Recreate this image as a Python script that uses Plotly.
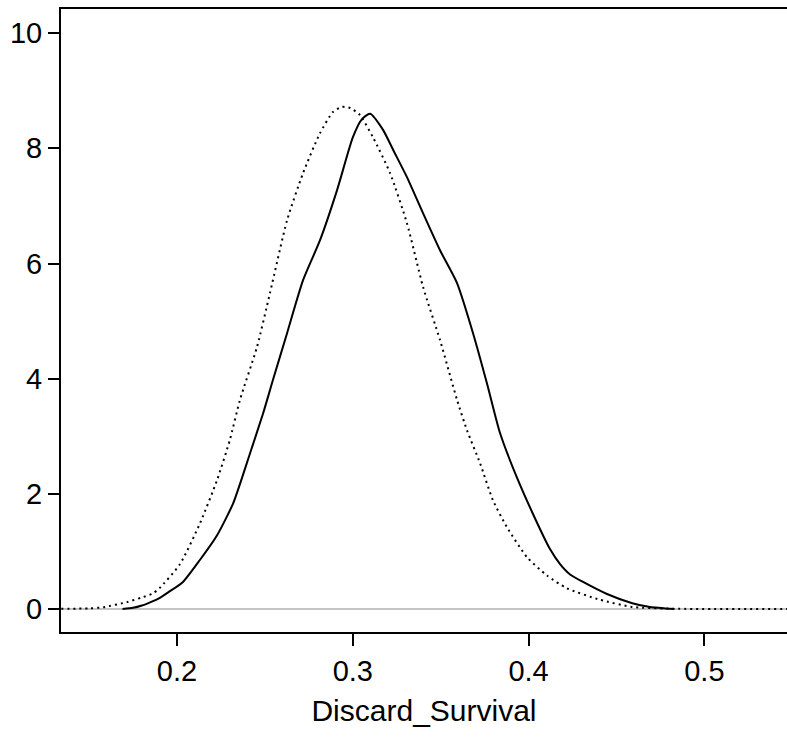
import plotly.graph_objects as go

# Solid curve (posterior density)
solid_x = [0.169, 0.175, 0.180, 0.185, 0.190, 0.1955, 0.2034, 0.213, 0.2228, 0.232,
           0.2415, 0.249, 0.2546, 0.2626, 0.2717, 0.2813, 0.291, 0.300, 0.305, 0.3098,
           0.3172, 0.323, 0.3308, 0.340, 0.3496, 0.3593, 0.3684, 0.3763, 0.3837, 0.3934,
           0.4025, 0.412, 0.4179, 0.4236, 0.431, 0.4446, 0.459, 0.469, 0.483]
solid_y = [0.0, 0.02, 0.06, 0.12, 0.19, 0.30, 0.47, 0.85, 1.28, 1.84,
           2.70, 3.40, 3.98, 4.79, 5.71, 6.40, 7.27, 8.19, 8.50, 8.60,
           8.32, 7.97, 7.50, 6.87, 6.23, 5.66, 4.79, 3.92, 3.06, 2.28,
           1.65, 1.05, 0.78, 0.60, 0.47, 0.26, 0.10, 0.035, 0.0]

# Dotted curve (prior density)
dot_x = [0.10, 0.150, 0.158, 0.1716, 0.180, 0.1863, 0.190, 0.2017, 0.2131, 0.2228,
         0.230, 0.2358, 0.2455, 0.2529, 0.2626, 0.2717, 0.2813, 0.2887, 0.2939, 0.2985,
         0.3040, 0.3115, 0.3212, 0.3308, 0.340, 0.3496, 0.3593, 0.365, 0.3724, 0.3797,
         0.3877, 0.3991, 0.4105, 0.4218, 0.4406, 0.459, 0.48, 0.60]
dot_y = [0.0, 0.01, 0.03, 0.12, 0.20, 0.27, 0.36, 0.78, 1.49, 2.24,
         2.93, 3.63, 4.55, 5.49, 6.75, 7.57, 8.26, 8.63, 8.72, 8.70,
         8.58, 8.19, 7.57, 6.70, 5.59, 4.67, 3.63, 3.10, 2.53, 1.89,
         1.42, 0.90, 0.58, 0.36, 0.16, 0.035, 0.005, 0.0]

x_ticks = [0.2, 0.3, 0.4, 0.5]
x_tick_labels = ["0.2", "0.3", "0.4", "0.5"]
y_ticks = [0, 2, 4, 6, 8, 10]
y_tick_labels = ["0", "2", "4", "6", "8", "10"]

FONT = "Arial, Liberation Sans, sans-serif"

fig = go.Figure()
fig.add_trace(go.Scatter(x=dot_x, y=dot_y, mode="lines", line=dict(color="black", width=2, dash="2px,4px", shape="spline", smoothing=0.6),
                         showlegend=False, hoverinfo="skip"))
fig.add_trace(go.Scatter(x=solid_x, y=solid_y, mode="lines", line=dict(color="black", width=2, shape="spline", smoothing=0.6),
                         showlegend=False, hoverinfo="skip"))

fig.update_layout(
    width=787, height=749,
    margin=dict(l=61, r=0, t=9, b=117),
    paper_bgcolor="white", plot_bgcolor="white",
    font=dict(family=FONT, size=30, color="black"),
    xaxis=dict(range=[0.134, 0.547], tickvals=x_ticks, ticktext=x_tick_labels,
               ticks="outside", ticklen=12, tickwidth=2, tickcolor="black",
               showline=True, linecolor="black", linewidth=2, mirror=True,
               showgrid=False, zeroline=False,
               title=dict(text="Discard_Survival", font=dict(size=30), standoff=14),
               tickfont=dict(size=29)),
    yaxis=dict(range=[-0.4, 10.42], tickvals=y_ticks, ticktext=y_tick_labels,
               ticks="outside", ticklen=11, tickwidth=2, tickcolor="black",
               showline=True, linecolor="black", linewidth=2, mirror=False,
               showgrid=False, zeroline=True, zerolinecolor="#c4c4c4", zerolinewidth=2,
               tickfont=dict(size=29)),
)

fig.write_html("out.html", config={"displayModeBar": False},
               post_script="document.body.style.margin='0';document.body.style.overflow='hidden';")
